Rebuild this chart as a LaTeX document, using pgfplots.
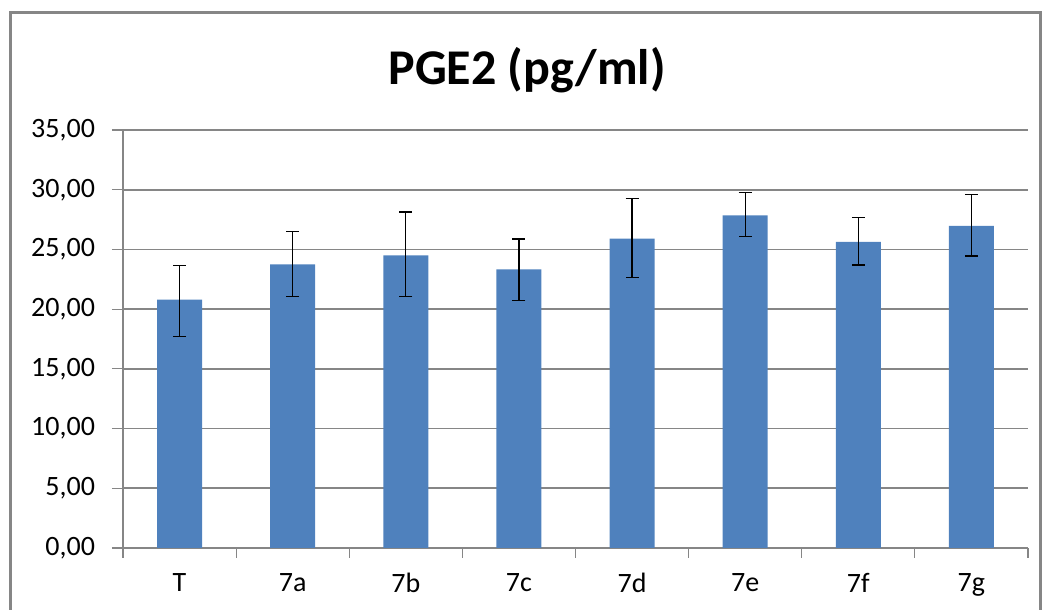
\documentclass[border=0pt]{standalone}
\usepackage{pgfplots}
\pgfplotsset{compat=1.18}
\usepackage{pgfplotstable}
\usepackage{fontspec}
\setmainfont{Carlito}
\definecolor{barblue}{RGB}{79,129,189}
\definecolor{gridgray}{RGB}{134,134,134}

\pgfplotstableread{
x y ep em
0 20.80 2.88 3.06
1 23.74 2.79 2.70
2 24.50 3.64 3.46
3 23.32 2.55 2.57
4 25.90 3.35 3.22
5 27.85 1.90 1.76
6 25.64 2.04 1.95
7 26.97 2.61 2.52
}\pge

\begin{document}
\begin{tikzpicture}[x=0.5pt,y=0.5pt]
\useasboundingbox (0,0) rectangle (1045,610);
\draw[gridgray,line width=1.5pt] (10,-20) rectangle (1040,597);
\node[font=\fontsize{25}{30}\selectfont\bfseries] at (527,540) {PGE2 (pg/ml)};
\begin{axis}[
  at={(61.5pt,31pt)}, anchor=south west,
  scale only axis, width=452.5pt, height=209pt,
  ymin=0, ymax=35, ytick={0,5,...,35},
  xmin=-0.5, xmax=7.5,
  xtick=data, xticklabels={T,7a,7b,7c,7d,7e,7f,7g},
  major x tick style={draw=none},
  minor xtick={-0.5,0.5,...,7.5},
  minor tick length=5pt,
  major tick length=5.5pt,
  tick align=outside,
  tick style={gridgray, line width=0.6pt},
  axis x line*=bottom, axis y line*=left,
  axis line style={gridgray, line width=0.6pt, -},
  ymajorgrids, grid style={gridgray, line width=0.8pt},
  font=\fontsize{14}{16}\selectfont,
  /pgf/number format/.cd, fixed, fixed zerofill, precision=2, use comma, assume math mode=true,
  /pgfplots/.cd,
  yticklabel style={xshift=-5pt},
  xticklabel style={yshift=-3.5pt},
]
\addplot[ybar, bar width=22.5pt, fill=barblue, draw=none,
  error bars/.cd, y dir=both, y explicit,
  error bar style={black, line width=0.6pt},
  error mark options={rotate=90, black, mark size=3.25pt, line width=0.6pt}]
  table[x=x, y=y, y error plus=ep, y error minus=em] {\pge};
\end{axis}
\end{tikzpicture}
\end{document}
